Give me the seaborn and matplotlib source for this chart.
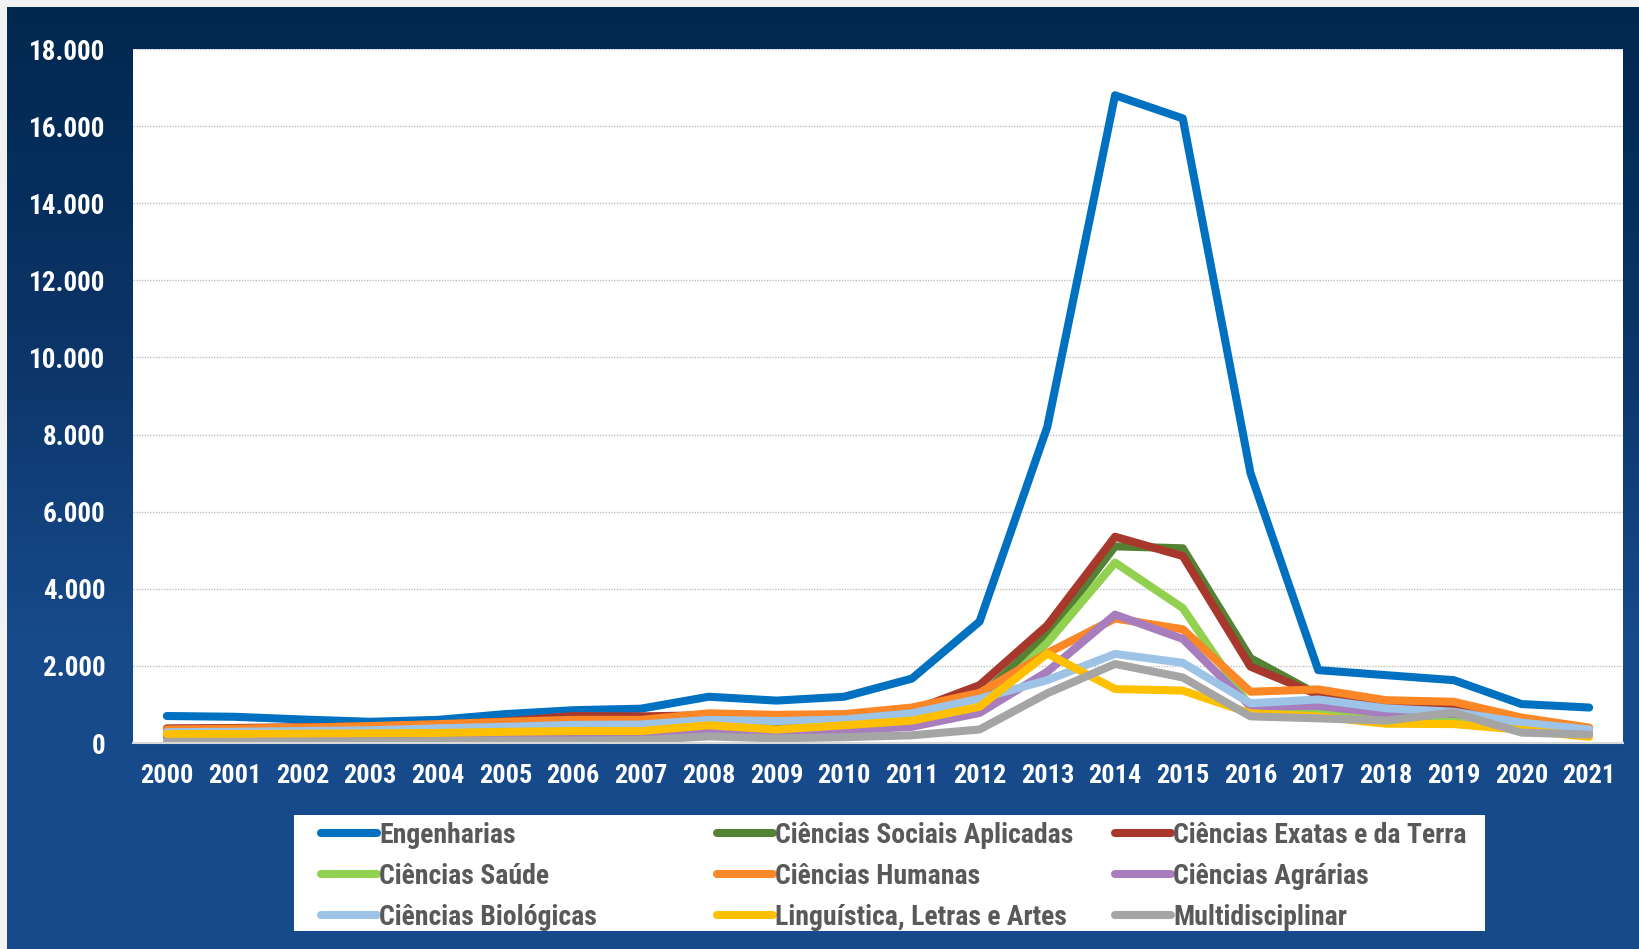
import matplotlib
matplotlib.use("Agg")
import matplotlib.pyplot as plt
import matplotlib.ticker as mticker
import numpy as np
import pandas as pd
import seaborn as sns
from matplotlib.colors import LinearSegmentedColormap
from matplotlib.patches import Rectangle

anos = list(range(2000, 2022))

engenharias = [700, 680, 610, 550, 600, 750, 850, 890, 1200, 1100, 1200, 1670,
               3150, 8200, 16800, 16200, 7000, 1890, 1760, 1630, 1010, 920]
sociais_aplicadas = [300, 310, 330, 350, 380, 420, 450, 460, 520, 500, 520, 600,
                     1200, 2800, 5100, 5050, 2200, 1250, 900, 650, 420, 260]
exatas_terra = [380, 390, 410, 430, 480, 560, 700, 690, 720, 640, 650, 840,
                1500, 3050, 5350, 4850, 1980, 1250, 1000, 900, 620, 380]
saude = [200, 210, 220, 230, 250, 270, 290, 300, 350, 290, 340, 440,
         900, 2600, 4680, 3500, 920, 850, 720, 680, 430, 270]
humanas = [350, 370, 400, 440, 490, 550, 600, 600, 770, 730, 750, 920,
           1300, 2330, 3230, 2950, 1330, 1390, 1110, 1070, 660, 400]
agrarias = [150, 160, 170, 180, 190, 200, 200, 210, 340, 270, 330, 420,
            780, 1850, 3330, 2700, 950, 960, 770, 760, 510, 330]
biologicas = [280, 290, 310, 330, 380, 420, 470, 480, 600, 570, 610, 770,
              1150, 1630, 2310, 2080, 1030, 1130, 900, 810, 530, 350]
linguistica = [230, 235, 240, 250, 260, 290, 310, 310, 460, 350, 460, 580,
               940, 2320, 1400, 1360, 770, 690, 500, 490, 340, 160]
multidisciplinar = [30, 30, 35, 40, 50, 60, 65, 75, 170, 120, 150, 200,
                    350, 1290, 2050, 1700, 690, 640, 580, 790, 270, 220]

series = {
    "Engenharias": engenharias,
    "Ciências Sociais Aplicadas": sociais_aplicadas,
    "Ciências Exatas e da Terra": exatas_terra,
    "Ciências Saúde": saude,
    "Ciências Humanas": humanas,
    "Ciências Agrárias": agrarias,
    "Ciências Biológicas": biologicas,
    "Linguística, Letras e Artes": linguistica,
    "Multidisciplinar": multidisciplinar,
}
cores = ["#0070C0", "#548235", "#A9382C", "#92D050", "#FB8726",
         "#A77DBE", "#9DC3E6", "#FFC000", "#A5A5A5"]

df = pd.DataFrame([
    {"ano": a, "area": nome, "valor": v}
    for nome, vals in series.items() for a, v in zip(anos, vals)
])

sns.set_theme(style="white")
plt.rcParams["font.family"] = ["Roboto Condensed", "DejaVu Sans Condensed",
                               "Roboto", "DejaVu Sans"]
plt.rcParams["font.weight"] = "bold"
plt.rcParams["font.stretch"] = "condensed"

W, H = 1640, 949
fig = plt.figure(figsize=(W / 100, H / 100), dpi=100, facecolor="#F2F2F2")

# navy gradient background
bg = fig.add_axes([7 / W, 0, 1 - 7 / W, 1 - 7 / H], zorder=-10)
cmap = LinearSegmentedColormap.from_list("bg", ["#00284F", "#0B3366", "#174A8A", "#174A8A"])
bg.imshow(np.linspace(0, 1, 256).reshape(-1, 1), aspect="auto", cmap=cmap,
          extent=[0, 1, 0, 1])
bg.set_axis_off()

ax = fig.add_axes([133 / W, 206 / H, 1490 / W, 694 / H])
ax.set_facecolor("white")

sns.lineplot(data=df, x="ano", y="valor", hue="area", hue_order=list(series),
             palette=cores, linewidth=5.8, ax=ax, legend=False,
             solid_capstyle="round")

ax.set_xlim(1999.5, 2021.5)
ax.set_ylim(0, 18000)
ax.set_xticks(anos)
ax.set_yticks(range(0, 18001, 2000))
ax.yaxis.set_major_formatter(
    mticker.FuncFormatter(lambda v, _: f"{int(v):,}".replace(",", ".")))
ax.grid(axis="y", color="#BFBFBF", linestyle=(0, (1, 1)), linewidth=1)
ax.set_axisbelow(True)
for s in ["top", "right", "left"]:
    ax.spines[s].set_visible(False)
ax.spines["bottom"].set_color("#D9D9D9")
ax.spines["bottom"].set_linewidth(1.5)
ax.set_xlabel("")
ax.set_ylabel("")
ax.tick_params(axis="y", length=0, pad=20, labelsize=19.5, labelcolor="white")
ax.tick_params(axis="x", length=0, pad=15, labelsize=19, labelcolor="white")

# legend: white box with three columns, filled row by row
fig.patches.append(Rectangle((294 / W, 18 / H), 1191 / W, 116 / H,
                             transform=fig.transFigure, facecolor="white",
                             edgecolor="none", zorder=1))
nomes = list(series)
col_x = [321, 717, 1115]
for j, x0 in enumerate(col_x):
    idx = [j, j + 3, j + 6]
    hs = [plt.Line2D([], [], color=cores[i], linewidth=5.8, solid_capstyle="round")
          for i in idx]
    leg = fig.legend(hs, [nomes[i] for i in idx], loc="upper left",
                     bbox_to_anchor=(x0 / W, 1 - 822 / H), frameon=False,
                     fontsize=20, handlelength=2.0, handletextpad=0.1,
                     labelspacing=0.5, borderpad=0, borderaxespad=0)
    leg.set_zorder(2)
    for t in leg.get_texts():
        t.set_color("#595959")
        t.set_fontweight("bold")

fig.savefig("out.png", dpi=100, facecolor=fig.get_facecolor())
